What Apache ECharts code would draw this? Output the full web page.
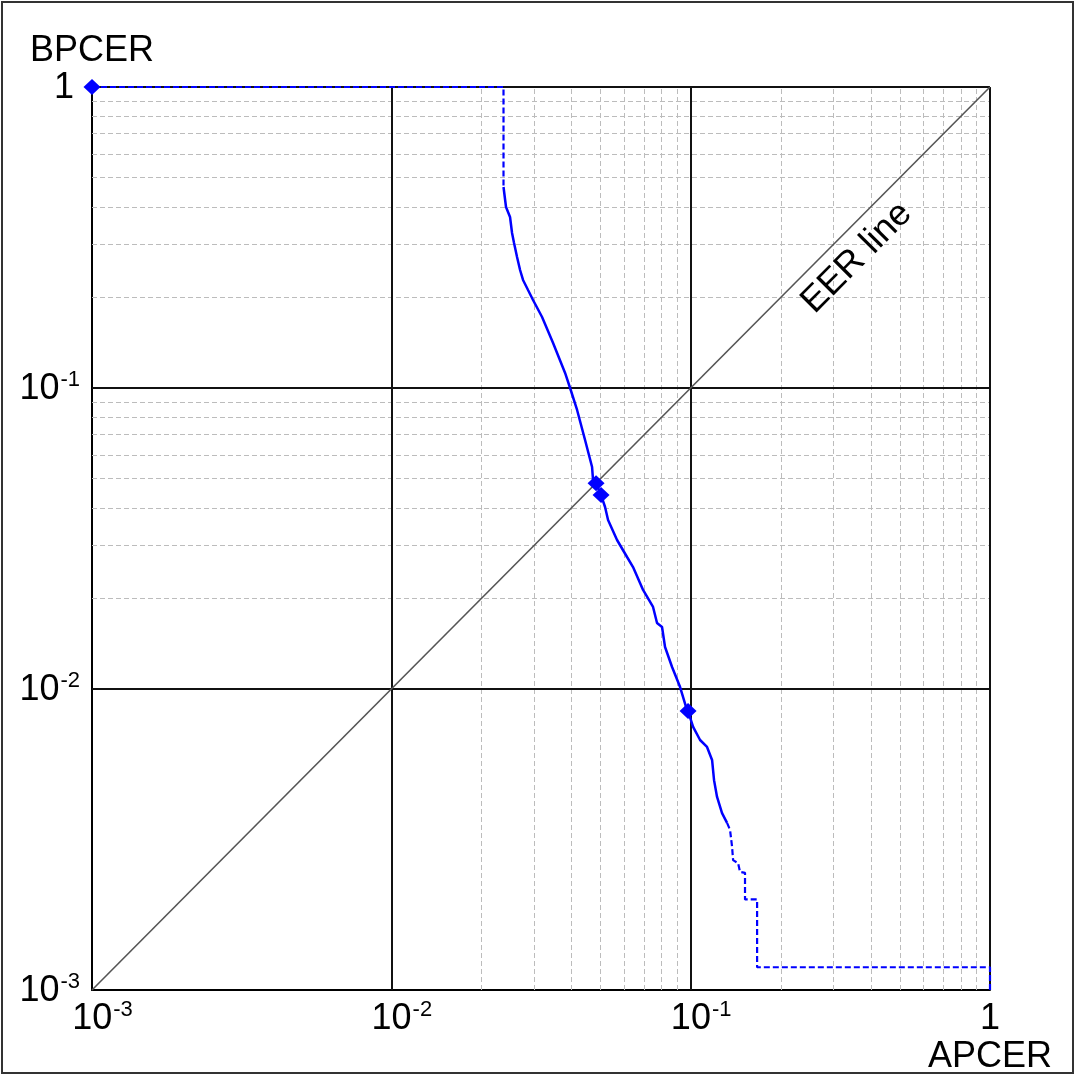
<!DOCTYPE html>
<html><head><meta charset="utf-8">
<script src="https://cdn.jsdelivr.net/npm/echarts@6/dist/echarts.min.js"></script>
<style>html,body{margin:0;padding:0;background:#fff}#c{width:1076px;height:1076px}</style>
</head><body><div id="c"></div>
<script>
// ---- axis ticks ----
const decadeTicks = [0.001, 0.01, 0.1, 1];
const tickExponents = ['-3', '-2', '-1', ''];
const minorMantissas = [2, 3, 4, 5, 6, 7, 8, 9];

// ---- DET curve (APCER, BPCER) ----
const topApcer = [0.001, 0.0237, 0.0237];
const topBpcer = [1, 1, 0.4654];

const curveApcer = [0.0237, 0.02416, 0.02492, 0.02531, 0.0257, 0.0263, 0.02692, 0.02754, 0.02862, 0.02974,
  0.03188, 0.0347, 0.03806, 0.03955, 0.04174, 0.04438, 0.04684, 0.04719, 0.0483, 0.0502,
  0.05176, 0.05297, 0.05676, 0.0613, 0.06419, 0.06934, 0.07487, 0.0772, 0.08023, 0.08211,
  0.08667, 0.09218, 0.09654, 0.098, 0.1019, 0.1075, 0.1134, 0.1179, 0.1197, 0.1225, 0.1273, 0.1323];
const curveBpcer = [0.4654, 0.3993, 0.3699, 0.3273, 0.3032, 0.2723, 0.2466, 0.2285, 0.2116, 0.1961,
  0.1721, 0.1411, 0.1122, 0.1, 0.08452, 0.0672, 0.05463, 0.04948, 0.0483, 0.0441,
  0.04024, 0.03642, 0.03126, 0.02745, 0.02542, 0.02133, 0.01873, 0.01657, 0.01607, 0.01379,
  0.01183, 0.01015, 0.00871, 0.00845, 0.00748, 0.00677, 0.00642, 0.00581, 0.00498, 0.00438, 0.00387, 0.00359];

const tailApcer = [0.1323, 0.1354, 0.1375, 0.1386, 0.144, 0.1462, 0.1519, 0.1519, 0.1667, 0.1667, 1, 1];
const tailBpcer = [0.00359, 0.0034, 0.00299, 0.0027, 0.00264, 0.00247, 0.00245, 0.002, 0.002, 0.00119, 0.00119, 0.001];

const markerApcer = [0.001, 0.0483, 0.0502, 0.098];
const markerBpcer = [1, 0.0483, 0.0441, 0.00845];

const eerLine = [[0.001, 0.001], [1, 1]];

const FONT = '"Liberation Sans", Arial, sans-serif';
const BLUE = '#0000ff';

function zip(a, b) { return a.map((v, i) => [v, b[i]]); }
function tickIndex(v) {
  const lv = Math.log10(v);
  let best = 0;
  decadeTicks.forEach((t, i) => { if (Math.abs(Math.log10(t) - lv) < Math.abs(Math.log10(decadeTicks[best]) - lv)) best = i; });
  return best;
}
const rich = {
  b: { fontSize: 36, fontFamily: FONT, color: '#000', lineHeight: 38, verticalAlign: 'bottom' },
  s: { fontSize: 22, fontFamily: FONT, color: '#000', lineHeight: 24, verticalAlign: 'top', padding: [0, 0, 0, 1] },
  p: { width: 21, fontSize: 10 },
  q: { width: 6, fontSize: 10 }
};
function xLabel(v) {
  const e = tickExponents[tickIndex(v)];
  return e === '' ? '{b|1}' : '{p| }{b|10}{s|' + e + '}';
}
function yLabel(v) {
  const e = tickExponents[tickIndex(v)];
  return e === '' ? '{b|1}{q| }' : '{b|10}{s|' + e + '}';
}

const minorVals = [];
decadeTicks.slice(0, 3).forEach(d => minorMantissas.forEach(m => minorVals.push(m * d)));

const axisCommon = {
  type: 'log', logBase: 10, min: 0.001, max: 1,
  axisLine: { show: true, lineStyle: { color: '#000', width: 2 } },
  axisTick: { show: false },
  splitLine: { show: true, lineStyle: { color: '#111', width: 2 } },
  minorTick: { show: false }, minorSplitLine: { show: false }
};

const chart = echarts.init(document.getElementById('c'));
chart.setOption({
  animation: false,
  backgroundColor: '#fff',
  grid: { left: 92, right: 86, top: 87, bottom: 86, containLabel: false },
  xAxis: Object.assign({}, axisCommon, {
    axisLabel: { formatter: xLabel, rich: rich, margin: 9 }
  }),
  yAxis: Object.assign({}, axisCommon, {
    axisLabel: { formatter: yLabel, rich: rich, margin: 12 }
  }),
  graphic: [
    { type: 'rect', shape: { x: 2, y: 2, width: 1071, height: 1071 }, style: { fill: 'none', stroke: '#333', lineWidth: 2 }, silent: true, z: 100 },
    { type: 'text', x: 92, y: 33, style: { text: 'BPCER', fontSize: 36, fontFamily: FONT, fill: '#000', align: 'center', verticalAlign: 'top' }, silent: true },
    { type: 'text', x: 990, y: 1039, style: { text: 'APCER', fontSize: 36, fontFamily: FONT, fill: '#000', align: 'center', verticalAlign: 'top' }, silent: true }
  ],
  series: [
    {
      type: 'line', data: [], z: 1, silent: true,
      markLine: {
        z: 1, silent: true, symbol: ['none', 'none'], label: { show: false },
        lineStyle: { type: [5, 3], color: '#bcbcbc', width: 1 },
        emphasis: { disabled: true },
        data: minorVals.map(v => ({ xAxis: v })).concat(minorVals.map(v => ({ yAxis: v })))
      }
    },
    {
      type: 'line', data: [], z: 2, silent: true,
      markLine: {
        z: 2, silent: true, symbol: ['none', 'none'], label: { show: false },
        lineStyle: { type: 'solid', color: '#111', width: 2 },
        emphasis: { disabled: true },
        data: decadeTicks.map(v => ({ xAxis: v })).concat(decadeTicks.map(v => ({ yAxis: v })))
      }
    },
    {
      type: 'line', data: [], z: 2, silent: true,
      markLine: {
        z: 2, silent: true, symbol: ['none', 'none'],
        lineStyle: { type: 'solid', color: '#555', width: 1.6 },
        emphasis: { disabled: true },
        label: { show: true, formatter: 'EER line', position: 'insideEndBottom', distance: [145, 8], fontSize: 36, fontFamily: FONT, color: '#000' },
        data: [[{ coord: eerLine[0] }, { coord: eerLine[1] }]]
      }
    },
    {
      type: 'line', data: zip(topApcer, topBpcer), showSymbol: false, clip: false, z: 3, silent: true,
      lineStyle: { color: BLUE, width: 2.2, type: [6, 3] }
    },
    {
      type: 'line', data: zip(curveApcer, curveBpcer), showSymbol: false, clip: false, z: 3, silent: true,
      lineStyle: { color: BLUE, width: 2.5 }
    },
    {
      type: 'line', data: zip(tailApcer, tailBpcer), showSymbol: false, clip: false, z: 3, silent: true,
      lineStyle: { color: BLUE, width: 2.2, type: [6, 3] }
    },
    {
      type: 'scatter', data: zip(markerApcer, markerBpcer), symbol: 'diamond', symbolSize: [17, 16], clip: false, z: 4, silent: true,
      itemStyle: { color: BLUE, opacity: 1 }
    }
  ]
});
</script>
</body></html>
